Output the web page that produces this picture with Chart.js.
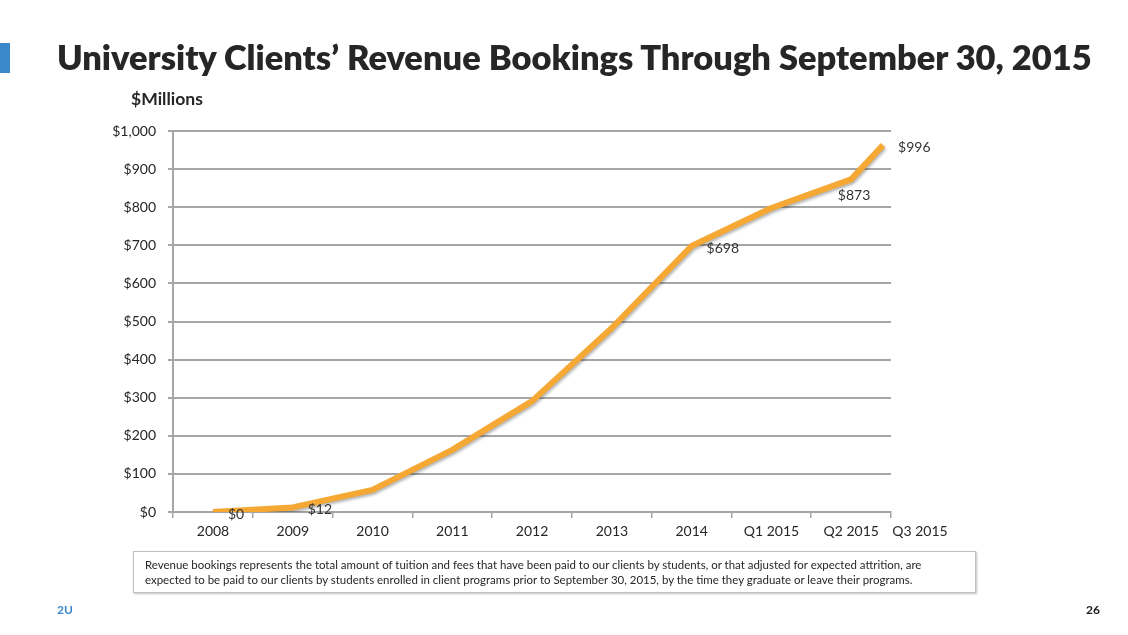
<!DOCTYPE html>
<html><head><meta charset="utf-8">
<script src="https://cdn.jsdelivr.net/npm/chart.js@4.4.1/dist/chart.umd.min.js"></script>
<style>
html,body{margin:0;padding:0;background:#fff;width:1128px;height:635px;overflow:hidden;font-family:Lato,'Open Sans',sans-serif;}
#wrap{position:relative;width:1128px;height:635px;}
#c{position:absolute;left:0;top:0;}
.abs{position:absolute;white-space:nowrap;line-height:1;}
#bar{left:0;top:43px;width:10px;height:30px;background:#3A87C9;}
#title{left:57px;top:34px;font-weight:800;color:#262626;font-size:36px;}
#unit{left:131px;top:90px;font-weight:bold;color:#262626;font-size:13px;}
#note{left:133px;top:551px;width:841px;height:40px;border:1.5px solid #BFBFBF;box-shadow:1px 1px 2px rgba(0,0,0,0.25);background:#fff;}
#note .ln{position:absolute;left:11px;white-space:nowrap;font-size:11px;color:#262626;line-height:1;}
#l1{top:7px;} #l2{top:22px;}
#brand{left:57px;top:604px;font-weight:bold;color:#3A87C9;font-size:12px;}
#page{left:1086px;top:604px;font-weight:bold;color:#1a1a1a;font-size:12px;}
</style></head>
<body><div id="wrap">
<canvas id="c" width="1128" height="635"></canvas>
<div class="abs" id="bar"></div>
<div class="abs" id="title">University Clients’ Revenue Bookings Through September 30, 2015</div>
<div class="abs" id="unit">$Millions</div>
<div class="abs" id="note"><span class="ln" id="l1">Revenue bookings represents the total amount of tuition and fees that have been paid to our clients by students, or that adjusted for expected attrition, are</span><span class="ln" id="l2">expected to be paid to our clients by students enrolled in client programs prior to September 30, 2015, by the time they graduate or leave their programs.</span></div>
<div class="abs" id="brand">2U</div>
<div class="abs" id="page">26</div>
</div>
<script>
// ---- data ----
const categories = ['2008','2009','2010','2011','2012','2013','2014','Q1 2015','Q2 2015','Q3 2015'];
const periodIndex = [0,1,2,3,4,5,6,7,8,8.4];
const bookings = [0,12,58,163,291,483,698,798,873,963];
const pointLabels = ['$0','$12',null,null,null,null,'$698',null,'$873','$996'];
const yTicks = [0,100,200,300,400,500,600,700,800,900,1000];

// ---- fit text widths ----
function fitWidth(el, target){
  const w = el.getBoundingClientRect().width;
  const fs = parseFloat(getComputedStyle(el).fontSize);
  const nfs = fs*target/w;
  el.style.fontSize = nfs+'px';
  return nfs;
}
const tfs = fitWidth(document.getElementById('title'), 1035);
document.getElementById('title').style.top = (71 - 0.887*tfs)+'px';
fitWidth(document.getElementById('unit'), 72);
const nfs = fitWidth(document.getElementById('l1'), 777);
document.getElementById('l2').style.fontSize = nfs+'px';

Chart.defaults.font.family = 'Lato, "Open Sans", sans-serif';

const shadow = {
  id:'shadow',
  beforeDatasetDraw(c){const x=c.ctx;x.save();x.shadowColor='rgba(0,0,0,0.3)';x.shadowBlur=3;x.shadowOffsetX=1;x.shadowOffsetY=2;},
  afterDatasetDraw(c){c.ctx.restore();}
};
const labelPlugin = {
  id:'ptLabels',
  afterDatasetsDraw(chart){
    const ctx = chart.ctx, meta = chart.getDatasetMeta(0);
    ctx.save();
    ctx.font = '14px Lato, "Open Sans", sans-serif';
    ctx.fillStyle = '#333333';
    ctx.textBaseline = 'middle';
    meta.data.forEach((pt,i)=>{
      const t = pointLabels[i]; if(!t) return;
      if(categories[i]==='Q2 2015'){ ctx.textAlign='center'; ctx.fillText(t, pt.x+3, pt.y+16); }
      else { ctx.textAlign='left'; ctx.fillText(t, pt.x+15, pt.y+2); }
    });
    ctx.restore();
  }
};

// slot boundaries -0.5..8.5 carry the first nine category labels (shifted to slot centres);
// the final category label sits just past the last slot, as in the original
const nSlots = categories.length - 1;
const xTickValues = [];
for (let i = 0; i <= nSlots; i++) xTickValues.push(i - 0.5);
xTickValues.push(nSlots - 0.5 - 0.138);
const xTickLabels = categories.slice(0, nSlots).concat(['', categories[nSlots]]);

new Chart(document.getElementById('c'), {
  type:'line',
  data:{ datasets:[{
    data: periodIndex.map((x,i)=>({x, y:bookings[i]})),
    borderColor:'#F5A833', borderWidth:6, pointRadius:0, tension:0,
    borderJoinStyle:'round', borderCapStyle:'butt', fill:false
  }]},
  options:{
    responsive:false, animation:false,
    layout:{padding:{left:0,right:237,top:131,bottom:83}},
    plugins:{legend:{display:false},tooltip:{enabled:false}},
    scales:{
      x:{
        type:'linear', min:-0.5, max:nSlots-0.5,
        afterBuildTicks(s){ s.ticks = xTickValues.map(v=>({value:v})); },
        afterFit(s){ s.height = 40; },
        ticks:{ autoSkip:false, maxRotation:0, labelOffset:40, padding:5,
          color:'#262626', font:{size:14},
          callback:(v,i)=>xTickLabels[i] },
        grid:{ drawOnChartArea:false, drawTicks:true, tickLength:6, lineWidth:1.5,
          color:(ctx)=> ctx.index > nSlots ? 'rgba(0,0,0,0)' : '#A6A6A6' },
        border:{ display:true, color:'#A6A6A6', width:2 }
      },
      y:{
        min:0, max:1000,
        afterBuildTicks(s){ s.ticks = yTicks.map(v=>({value:v})); },
        afterFit(s){ s.width = 173; },
        ticks:{ padding:12, color:'#262626', font:{size:14},
          callback:v=>'$'+v.toLocaleString('en-US') },
        grid:{ color:'#A6A6A6', lineWidth:2, tickLength:5 },
        border:{ display:true, color:'#A6A6A6', width:2 }
      }
    }
  },
  plugins:[shadow,labelPlugin]
});
</script>
</body></html>
